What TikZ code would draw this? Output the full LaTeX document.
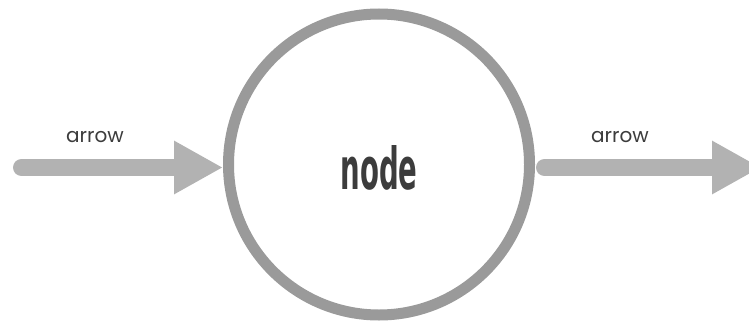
\documentclass[tikz,border=0pt]{standalone}
\usepackage{fontspec}
\setmainfont{Poppins}
\newfontfamily\nodefont{DejaVu Sans}
\usetikzlibrary{arrows.meta,calc}
\definecolor{ringgray}{HTML}{9A9A9A}
\definecolor{arrowgray}{HTML}{B2B2B2}
\definecolor{textgray}{HTML}{3C3C3C}
\tikzset{
  ring/.style={circle, draw=ringgray, line width=11pt, minimum size=301pt, inner sep=0pt, text=textgray},
  flow/.style={draw=arrowgray, line width=17pt, line cap=round, -{Triangle[length=49pt,width=50pt,fill=arrowgray]}},
  lbl/.style={anchor=base, text=textgray, font=\fontsize{20}{24}\selectfont}
}
\begin{document}
\begin{tikzpicture}[x=1pt,y=-1pt]
\useasboundingbox (0,0) rectangle (749,321);
\node[ring] (n) at (379,164.5) {\raisebox{-2.5pt}[44pt][0pt]{\resizebox{77pt}{44pt}{\nodefont\bfseries node}}};
\coordinate (ls) at (21.5,167.5);
\coordinate (rs) at (544.5,167.5);
\coordinate (re) at (761,167.5);
\draw[flow] (ls) -- (ls -| n.west);
\draw[flow] (rs) -- (re);
\node[lbl] (la) at (95,142) {arrow};
\node[lbl] (ra) at (620,142) {arrow};
\end{tikzpicture}
\end{document}
